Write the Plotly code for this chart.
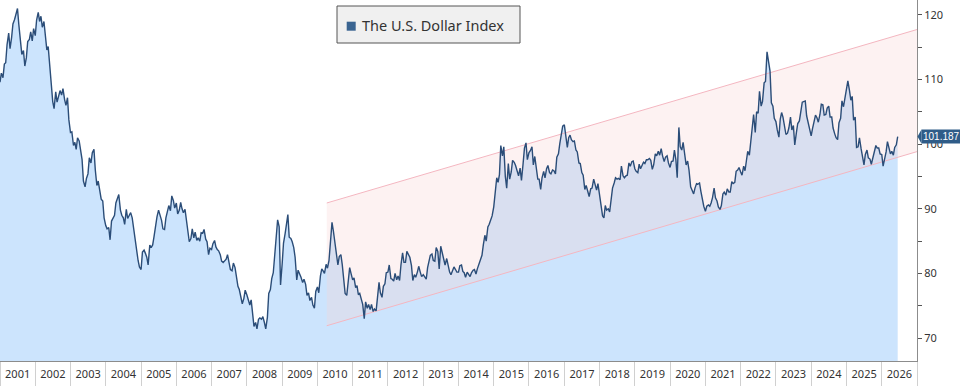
import pandas as pd
import plotly.graph_objects as go

# U.S. Dollar Index, semi-monthly readings (1st and 15th of each month)
dxy_2001 = [109.6, 111.0, 110.3, 112.4, 112.6, 115.4, 117.2, 114.8, 116.5, 118.6, 119.3, 120.2,
            121.0, 118.5, 116.4, 113.9, 114.5, 112.1, 113.4, 115.9, 116.2, 117.4, 116.0, 117.9]
dxy_2002 = [116.8, 119.2, 120.4, 119.0, 119.8, 118.1, 119.0, 117.2, 114.6, 115.1, 112.0, 109.1,
            106.6, 105.5, 108.1, 106.5, 107.4, 108.3, 107.6, 108.6, 106.9, 106.0, 107.2, 103.8]
dxy_2003 = [101.8, 101.9, 99.8, 100.3, 99.2, 101.0, 100.5, 99.2, 97.6, 94.3, 93.4, 94.7,
            95.4, 97.9, 97.1, 98.7, 99.2, 96.0, 93.6, 94.3, 93.0, 91.5, 91.2, 88.6]
dxy_2004 = [87.4, 86.9, 87.1, 85.2, 88.1, 88.6, 89.0, 90.9, 91.6, 92.2, 89.8, 89.0,
            88.6, 87.6, 89.9, 88.5, 89.0, 89.4, 88.6, 86.9, 85.2, 83.4, 82.0, 81.0]
dxy_2005 = [80.6, 83.3, 83.6, 83.1, 82.5, 81.3, 84.4, 84.0, 84.4, 85.7, 87.5, 88.8,
            89.8, 89.0, 88.2, 86.9, 86.8, 88.6, 89.6, 90.5, 89.7, 92.0, 91.3, 90.1]
dxy_2006 = [90.9, 89.2, 89.8, 91.0, 90.0, 89.4, 89.9, 88.5, 86.2, 84.9, 85.4, 86.9,
            85.5, 86.4, 85.1, 85.5, 85.0, 86.3, 86.2, 86.8, 85.3, 84.9, 82.9, 83.9]
dxy_2007 = [83.7, 84.6, 85.1, 84.1, 83.7, 83.5, 82.9, 81.9, 81.7, 81.9, 82.2, 82.9,
            81.8, 80.6, 80.4, 81.6, 80.9, 79.3, 78.0, 77.5, 76.2, 75.3, 76.1, 77.4]
dxy_2008 = [76.7, 75.8, 75.1, 75.9, 73.9, 71.8, 72.4, 71.4, 72.9, 73.1, 72.9, 73.3,
            72.4, 71.4, 73.2, 76.9, 77.5, 79.2, 80.1, 82.6, 85.2, 88.3, 87.2, 78.2]
dxy_2009 = [81.5, 84.7, 86.2, 88.0, 89.1, 85.6, 85.4, 84.9, 84.0, 82.5, 79.0, 80.5,
            80.0, 79.4, 78.6, 79.1, 78.3, 76.6, 77.0, 75.8, 76.3, 75.1, 74.6, 77.2]
dxy_2010 = [77.9, 77.0, 79.6, 80.7, 80.4, 80.0, 81.4, 80.8, 82.0, 85.5, 87.9, 86.6,
            85.0, 83.0, 81.3, 82.6, 82.9, 81.4, 78.5, 76.9, 76.6, 78.8, 80.9, 80.0]
dxy_2011 = [79.0, 79.3, 77.8, 78.1, 76.7, 76.9, 75.9, 75.2, 73.0, 75.6, 74.6, 75.2,
            74.4, 75.2, 74.1, 74.5, 74.2, 76.8, 78.6, 77.0, 76.3, 78.0, 78.4, 80.1]
dxy_2012 = [80.2, 81.3, 79.2, 79.1, 78.8, 80.0, 79.0, 79.6, 78.9, 81.3, 83.2, 81.7,
            81.7, 83.4, 83.0, 82.5, 81.2, 78.9, 79.8, 79.4, 80.2, 81.1, 80.2, 79.5]
dxy_2013 = [79.8, 79.4, 79.1, 80.9, 82.2, 82.8, 83.0, 82.0, 81.9, 84.0, 83.4, 80.7,
            84.2, 83.3, 81.7, 81.3, 82.3, 81.0, 80.2, 79.8, 80.4, 81.0, 80.6, 80.2]
dxy_2014 = [80.2, 81.2, 81.3, 80.3, 80.1, 79.4, 80.2, 79.9, 79.5, 80.1, 80.5, 80.6,
            79.9, 80.7, 81.4, 81.8, 82.8, 84.4, 85.9, 85.0, 87.2, 87.6, 88.4, 88.9]
dxy_2015 = [90.3, 92.7, 94.8, 94.1, 95.3, 99.8, 98.2, 99.6, 95.0, 93.2, 97.0, 94.6,
            95.7, 97.5, 97.2, 96.7, 95.6, 95.1, 96.3, 94.4, 97.0, 99.4, 100.2, 97.6]
dxy_2016 = [98.7, 99.0, 99.6, 96.8, 98.1, 96.5, 94.6, 94.6, 93.0, 94.8, 95.8, 94.8,
            96.2, 96.7, 95.6, 95.4, 96.0, 95.9, 95.4, 98.0, 98.5, 100.1, 101.5, 102.8]
dxy_2017 = [103.0, 101.2, 99.5, 101.0, 101.4, 100.7, 100.4, 100.5, 99.1, 98.8, 97.1, 97.0,
            95.6, 95.2, 93.0, 93.6, 92.4, 91.9, 93.1, 93.2, 94.6, 93.8, 92.9, 93.9]
dxy_2018 = [92.1, 90.6, 88.9, 88.6, 90.5, 89.8, 90.0, 89.5, 91.8, 93.2, 94.0, 94.8,
            94.6, 94.7, 94.5, 96.6, 95.1, 94.8, 95.1, 95.2, 97.1, 96.6, 97.3, 97.4]
dxy_2019 = [96.2, 95.8, 95.6, 96.9, 96.2, 96.6, 97.2, 97.0, 97.6, 97.6, 97.8, 97.5,
            96.1, 96.8, 98.5, 98.2, 98.9, 98.3, 99.3, 98.2, 97.3, 98.0, 98.2, 97.1]
dxy_2020 = [96.4, 97.3, 97.4, 99.1, 97.6, 94.8, 102.6, 99.6, 99.1, 100.3, 98.3, 96.8,
            97.4, 96.0, 93.4, 93.0, 92.3, 93.2, 93.9, 93.8, 94.0, 92.7, 91.4, 90.4]
dxy_2021 = [89.6, 90.4, 90.6, 90.4, 90.9, 91.7, 93.2, 91.7, 91.2, 90.3, 89.9, 90.5,
            92.3, 92.6, 92.1, 93.1, 92.6, 92.6, 94.2, 93.9, 94.1, 95.8, 96.0, 96.4]
dxy_2022 = [95.7, 95.2, 96.6, 95.9, 97.4, 98.9, 98.3, 100.5, 103.2, 104.6, 101.8, 105.0,
            104.8, 108.2, 105.9, 106.6, 109.5, 109.7, 114.3, 112.6, 111.3, 106.4, 105.9, 104.0]
dxy_2023 = [103.5, 102.2, 101.1, 103.9, 104.9, 104.2, 102.5, 101.5, 101.7, 102.5, 104.2, 102.2,
            102.9, 99.9, 101.8, 103.2, 103.6, 105.3, 106.5, 106.6, 106.7, 104.4, 103.4, 102.5]
dxy_2024 = [101.3, 102.4, 103.4, 104.5, 104.1, 103.4, 104.6, 106.2, 106.1, 104.5, 104.6, 105.6,
            105.9, 104.2, 104.2, 102.5, 101.6, 101.0, 100.7, 103.3, 104.0, 106.7, 105.8, 106.9]
dxy_2025 = [108.5, 109.8, 108.3, 106.8, 107.4, 103.7, 104.2, 99.5, 99.6, 101.0, 99.3, 98.0,
            96.8, 98.4, 99.1, 97.9, 97.7, 96.9, 97.8, 98.6, 99.8, 99.4, 99.4, 98.5]
dxy_2026 = [98.4, 96.6, 97.6, 98.8, 100.4, 99.5, 98.5, 98.9, 98.3, 99.5, 99.9, 101.187]

years = list(range(2001, 2027))
series_by_year = [dxy_2001, dxy_2002, dxy_2003, dxy_2004, dxy_2005, dxy_2006, dxy_2007,
                  dxy_2008, dxy_2009, dxy_2010, dxy_2011, dxy_2012, dxy_2013, dxy_2014,
                  dxy_2015, dxy_2016, dxy_2017, dxy_2018, dxy_2019, dxy_2020, dxy_2021,
                  dxy_2022, dxy_2023, dxy_2024, dxy_2025, dxy_2026]

# Trend channel drawn on the chart
channel_dates = ["2010-04-08", "2027-01-01"]
channel_upper = [90.9, 117.75]
channel_lower = [71.9, 98.85]

series_name = "The U.S. Dollar Index"

dates = []
values = []
for yr, vals in zip(years, series_by_year):
    dates.extend(pd.date_range(f"{yr}-01-01", periods=len(vals), freq="SMS"))
    values.extend(vals)

LINE = "#2b4d78"
AREA = "#cce4fd"
FONT = "Noto Sans"

fig = go.Figure()
fig.add_trace(go.Scatter(x=dates, y=values, mode="lines", line=dict(width=0),
                         fill="tozeroy", fillcolor=AREA, hoverinfo="skip", showlegend=False))
fig.add_trace(go.Scatter(x=channel_dates, y=channel_lower, mode="lines",
                         line=dict(color="#f4b6c0", width=1), showlegend=False, hoverinfo="skip"))
fig.add_trace(go.Scatter(x=channel_dates, y=channel_upper, mode="lines",
                         line=dict(color="#f4b6c0", width=1), fill="tonexty",
                         fillcolor="rgba(250,212,212,0.30)", showlegend=False, hoverinfo="skip"))
fig.add_trace(go.Scatter(x=dates, y=values, mode="lines", line=dict(color=LINE, width=1.4),
                         name=series_name, showlegend=False))

W, H = 960, 386
ML, MR, MT, MB = 0, 43, 0, 25
PW, PH = W - ML - MR, H - MT - MB


def px(xp):
    return xp / PW


def py(yp):
    return (PH - yp) / PH


shapes = [
    # legend box
    dict(type="rect", xref="paper", yref="paper", x0=px(337), x1=px(520), y0=py(43), y1=py(6),
         fillcolor="#f0f0f0", line=dict(color="#555555", width=1), layer="above"),
    dict(type="rect", xref="paper", yref="paper", x0=px(346.7), x1=px(355.7), y0=py(30.7), y1=py(21.7),
         fillcolor="#3a6491", line=dict(width=0), layer="above"),
    # last-value pointer
    dict(type="path", xref="paper", yref="y",
         path=f"M {px(917.5)} {values[-1]} L {px(921.5)} {values[-1] + 1.1} L {px(921.5)} {values[-1] - 1.1} Z",
         fillcolor="#2f5c88", line=dict(width=0), layer="above"),
]

annotations = [
    dict(text=series_name, xref="paper", yref="paper", x=px(360), y=py(25.5),
         xanchor="left", yanchor="middle", showarrow=False,
         font=dict(family=FONT, size=14.5, color="#333333")),
    dict(text=f"{values[-1]:.3f}", xref="paper", yref="y", x=px(921), y=values[-1],
         xanchor="left", yanchor="middle", showarrow=False, bgcolor="#2f5c88", borderpad=1,
         font=dict(family="Liberation Sans", size=10, color="#ffffff")),
]

fig.update_layout(
    width=W, height=H, margin=dict(l=ML, r=MR, t=MT, b=MB),
    paper_bgcolor="#ffffff", plot_bgcolor="#ffffff",
    shapes=shapes, annotations=annotations, showlegend=False,
    font=dict(family=FONT, size=11, color="#333333"),
)
fig.update_xaxes(
    type="date", range=["2001-01-01", "2027-01-01"],
    dtick="M12", tick0="2001-01-01", tickformat="%Y", ticklabelmode="period",
    ticks="outside", ticklen=25, tickcolor="#d0d0d0", tickwidth=1,
    ticklabelstandoff=-22,
    showgrid=False, zeroline=False, showline=True, linecolor="#8c8c8c", linewidth=1,
    tickfont=dict(family=FONT, size=11, color="#333333"),
)
fig.update_yaxes(
    side="right", range=[66.44, 122.32], dtick=10, tick0=70,
    ticks="outside", ticklen=4, tickcolor="#555555",
    minor=dict(dtick=5, ticks="outside", ticklen=4, tickcolor="#555555", showgrid=False),
    showgrid=False, zeroline=False, showline=True, linecolor="#8c8c8c", linewidth=1,
    tickfont=dict(family=FONT, size=11, color="#333333"),
)

fig.write_html("out.html")
